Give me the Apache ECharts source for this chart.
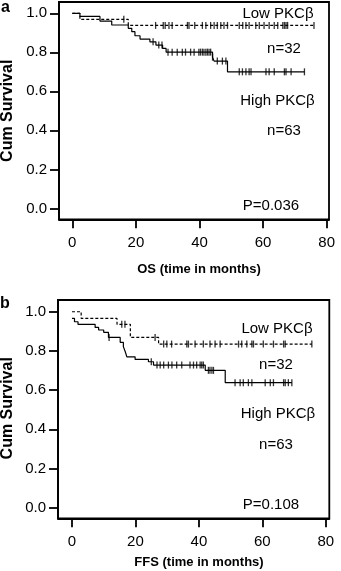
<!DOCTYPE html>
<html>
<head>
<meta charset="utf-8">
<script src="https://cdn.jsdelivr.net/npm/echarts@6/dist/echarts.min.js"></script>
<style>
  html, body { margin: 0; padding: 0; background: #fff; }
  #main { width: 341px; height: 571px; }
</style>
</head>
<body>
<div id="main"></div>
<script>
// axis ticks
var timeTicks = [0, 20, 40, 60, 80];
var survTicks = [0, 0.2, 0.4, 0.6, 0.8, 1.0];

// panel a - OS, [time, survival after step]
var osLowSteps = [[0, 1], [2.4, 0.969], [17.6, 0.938], [76, 0.938]];
var osHighSteps = [[0, 1], [2.4, 0.984], [8.7, 0.96], [12.4, 0.94], [17.6, 0.923], [18.7, 0.906],
  [19.7, 0.885], [21.3, 0.868], [24.4, 0.854], [26.3, 0.837], [28.4, 0.82], [29.5, 0.801],
  [44.1, 0.775], [44.6, 0.755], [48.8, 0.70], [73, 0.70]];
var osLowCensor = [16.2, 26.2, 28.6, 29.2, 30.4, 31.4, 36.2, 36.7, 38.5, 40.9, 42, 43.5, 44.6, 45.6,
  46.7, 47.7, 48.8, 52.5, 53.6, 54.6, 55.6, 57.7, 58.8, 60.3, 61.9, 63.5, 64.6, 66.2, 66.7, 67.2, 67.7, 76];
var osHighCensor = [25.4, 27.2, 28.2, 30.1, 31.4, 33, 34.6, 35.6, 37.2, 38.3, 39.8, 40.3, 40.9, 41.4,
  42, 42.5, 43, 43.5, 44.1, 45.6, 47.2, 48.3, 52.5, 53.5, 54.6, 55.6, 56.2, 60.9, 61.9, 63.5,
  66.7, 67.2, 68.8, 73];

// panel b - FFS
var ffsLowSteps = [[0, 1], [2.9, 0.966], [14.2, 0.936], [18.4, 0.869], [27.3, 0.835], [75.6, 0.835]];
var ffsHighSteps = [[0, 0.966], [0.8, 0.949], [1.9, 0.936], [7.3, 0.92], [8.4, 0.907], [10, 0.895],
  [11.5, 0.869], [15.2, 0.844], [16.2, 0.822], [16.8, 0.796], [17.3, 0.77], [19.9, 0.757],
  [24.1, 0.745], [25.7, 0.728], [42, 0.701], [48.3, 0.638], [69.3, 0.638]];
var ffsLowCensor = [15.7, 16.7, 26.2, 28.9, 29.9, 31.4, 36.2, 36.7, 38.8, 41.4, 43.5, 45.1, 46.7,
  52.5, 53.5, 55.1, 56.7, 57.2, 60.3, 63.5, 66.7, 67.2, 75.6];
var ffsHighCensor = [11.7, 25, 26.8, 27.8, 28.9, 30.4, 31.5, 33, 34.6, 37.2, 38.3, 39.3, 40.4, 40.9,
  41.4, 43, 43.5, 44.1, 44.6, 51.4, 53, 54, 55.6, 56.7, 60.9, 62.5, 63.5, 66.7, 67.2, 68.2, 69.3];

var FONT = "'Liberation Sans', Arial, sans-serif";

// survival value of a step curve at time t
function survAt(steps, t) {
  var s = steps[0][1];
  for (var i = 0; i < steps.length; i++) {
    if (steps[i][0] <= t) s = steps[i][1];
  }
  return s;
}
function censorPoints(steps, times) {
  return times.map(function (t) { return [t, survAt(steps, t)]; });
}

var myChart = echarts.init(document.getElementById('main'), null, { renderer: 'canvas' });

function xAx(idx, min, max) {
  return {
    type: 'value', gridIndex: idx, min: min, max: max,
    axisLine: { show: true, onZero: false, lineStyle: { color: '#000', width: 1.8 } },
    axisTick: { show: true, customValues: timeTicks, length: 9, lineStyle: { color: '#000', width: 1.8 } },
    axisLabel: { customValues: timeTicks, margin: 16, fontSize: 15, color: '#000', fontFamily: FONT },
    splitLine: { show: false }
  };
}
function yAx(idx, min, max) {
  return {
    type: 'value', gridIndex: idx, min: min, max: max,
    axisLine: { show: true, onZero: false, lineStyle: { color: '#000', width: 1.8 } },
    axisTick: { show: true, customValues: survTicks, length: 9, lineStyle: { color: '#000', width: 1.8 } },
    axisLabel: {
      customValues: survTicks, margin: 12, fontSize: 15, color: '#000', fontFamily: FONT,
      formatter: function (v) { return v.toFixed(1); }
    },
    splitLine: { show: false }
  };
}
function curve(idx, steps, dashed) {
  return {
    type: 'line', xAxisIndex: idx, yAxisIndex: idx, step: 'end', data: steps,
    showSymbol: false, silent: true,
    lineStyle: { color: '#000', width: 1.2, type: dashed ? [3, 2] : 'solid' }
  };
}
function marks(idx, steps, times) {
  return {
    type: 'scatter', xAxisIndex: idx, yAxisIndex: idx, data: censorPoints(steps, times),
    symbol: 'rect', symbolSize: [1.3, 7], itemStyle: { color: '#000' }, silent: true
  };
}
function txt(x, y, text, size, bold, rot) {
  return {
    type: 'text', x: x, y: y, rotation: rot || 0,
    style: {
      text: text, fill: '#000', font: (bold ? 'bold ' : '') + size + 'px ' + FONT,
      align: 'center', verticalAlign: 'middle', textAlign: 'center', textVerticalAlign: 'middle'
    }
  };
}

var option = {
  animation: false,
  backgroundColor: '#fff',
  grid: [
    { left: 59, top: 2, width: 270, height: 217.3, show: true, borderColor: '#000', borderWidth: 1.8 },
    { left: 58, top: 300, width: 271.3, height: 218.3, show: true, borderColor: '#000', borderWidth: 1.8 }
  ],
  xAxis: [xAx(0, -4.18, 80.72), xAx(1, -4.4, 81.1)],
  yAxis: [yAx(0, -0.056, 1.058), yAx(1, -0.054, 1.06)],
  series: [
    curve(0, osLowSteps, true), curve(0, osHighSteps, false),
    marks(0, osLowSteps, osLowCensor), marks(0, osHighSteps, osHighCensor),
    curve(1, ffsLowSteps, true), curve(1, ffsHighSteps, false),
    marks(1, ffsLowSteps, ffsLowCensor), marks(1, ffsHighSteps, ffsHighCensor)
  ],
  graphic: [
    txt(5.5, 7.5, 'a', 16, true),
    txt(7.5, 110.8, 'Cum Survival', 16, true, Math.PI / 2),
    txt(278, 14, 'Low PKC\u03b2', 15),
    txt(284, 49, 'n=32', 15),
    txt(277.5, 100.8, 'High PKC\u03b2', 15),
    txt(284, 131, 'n=63', 15),
    txt(271, 206, 'P=0.036', 15),
    txt(199, 269, 'OS (time in months)', 13, true),

    txt(5, 303.3, 'b', 16, true),
    txt(7.5, 408.3, 'Cum Survival', 16, true, Math.PI / 2),
    txt(277, 329, 'Low PKC\u03b2', 15),
    txt(276, 365, 'n=32', 15),
    txt(278, 413.5, 'High PKC\u03b2', 15),
    txt(276, 445, 'n=63', 15),
    txt(271, 505, 'P=0.108', 15),
    txt(199, 562, 'FFS (time in months)', 13, true)
  ]
};
myChart.setOption(option);
</script>
</body>
</html>
